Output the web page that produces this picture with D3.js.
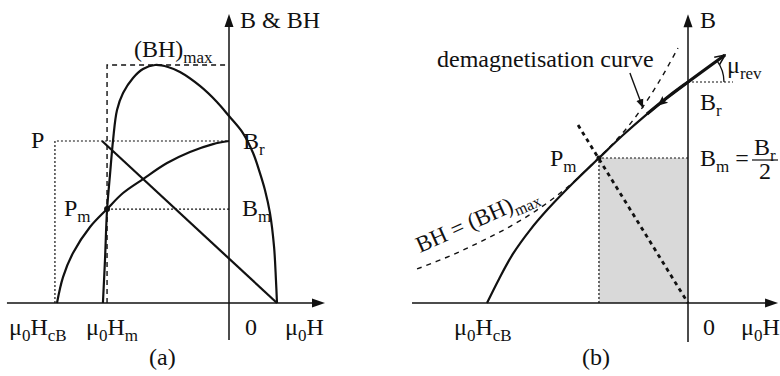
<!DOCTYPE html>
<html>
<head>
<meta charset="utf-8">
<script src="https://cdn.jsdelivr.net/npm/d3@7"></script>
<style>
  body { margin: 0; background: #fff; }
  svg { display: block; }
  text { font-family: "Liberation Serif", "Times New Roman", serif; fill: #111; }
</style>
</head>
<body>
<svg id="chart" width="780" height="376"></svg>
<script>
// ---- Panel (a): units of H_cB (field) and B_r (flux density) ----
const aDemag = [[-1.000, 0], [-0.965, 0.160], [-0.907, 0.309], [-0.808, 0.469], [-0.709, 0.580],
                [-0.616, 0.679], [-0.500, 0.765], [-0.360, 0.864], [-0.227, 0.932], [-0.093, 0.981], [0, 1]];
const aEnergy = [[-0.733, 0], [-0.721, 0.265], [-0.709, 0.574], [-0.692, 0.790], [-0.674, 1.006],
                 [-0.651, 1.191], [-0.616, 1.296], [-0.558, 1.389], [-0.500, 1.444], [-0.430, 1.469],
                 [-0.355, 1.457], [-0.285, 1.426], [-0.169, 1.340], [-0.070, 1.241], [0, 1.154],
                 [0.081, 1.049], [0.140, 0.926], [0.180, 0.802], [0.209, 0.698], [0.238, 0.556],
                 [0.262, 0.346], [0.273, 0.142], [0.279, 0]];
const aLoadLine = [[-0.738, 1.0], [0.279, 0]];
const aP = [-1.012, 1.0];
const aPm = [-0.709, 0.580];
const aBHmax = 1.469;
const aAxisH = [-1.291, 0.558];
const aAxisB = [-0.228, 1.784];

// ---- Panel (b) ----
const bDemag = [[-1.000, 0], [-0.940, 0.109], [-0.871, 0.222], [-0.786, 0.330], [-0.697, 0.425],
                [-0.572, 0.543], [-0.443, 0.656], [-0.323, 0.760], [-0.204, 0.855], [-0.100, 0.932], [0, 1]];
const bRecoil = [[0, 1], [0.184, 1.122]];
const bHyperbola = [[-1.348, 0.154], [-1.184, 0.213], [-1.035, 0.276], [-0.886, 0.346], [-0.736, 0.430],
                    [-0.587, 0.534], [-0.443, 0.658], [-0.338, 0.756], [-0.239, 0.869], [-0.139, 1.009],
                    [-0.050, 1.154]];
const bLoadLine = [[-0.547, 0.805], [0, 0]];
const bPm = [-0.443, 0.656];
const bBrGuide = [0, 0.224];
const bLabelArrow = [[-0.289, 1.041], [-0.224, 0.882]];
const bAxisH = [-1.373, 0.448];
const bAxisB = [-0.176, 1.307];

const svg = d3.select("#chart");
const ink = "#111";
const FS = 24, SUB = 17;

const defs = svg.append("defs");
defs.append("marker").attr("id", "head").attr("viewBox", "0 0 10 10")
  .attr("refX", 10).attr("refY", 5).attr("markerWidth", 9).attr("markerHeight", 9)
  .attr("markerUnits", "userSpaceOnUse").attr("orient", "auto")
  .append("path").attr("d", "M0,1 L10,5 L0,9 Z").attr("fill", ink);
defs.append("marker").attr("id", "open").attr("viewBox", "0 0 12 12")
  .attr("refX", 11).attr("refY", 6).attr("markerWidth", 12).attr("markerHeight", 12)
  .attr("markerUnits", "userSpaceOnUse").attr("orient", "auto")
  .append("path").attr("d", "M1,1.5 L11,6 L1,10.5").attr("fill", "none")
  .attr("stroke", ink).attr("stroke-width", 1.6);

// text with subscripts: parts = [[string, isSub], ...]
function label(g, x, y, parts, size = FS, subSize = SUB) {
  const t = g.append("text").attr("x", x).attr("y", y).attr("font-size", size);
  let down = false;
  parts.forEach(([s, sub]) => {
    const ts = t.append("tspan").text(s);
    if (sub && !down) { ts.attr("font-size", subSize).attr("dy", 6); down = true; }
    else if (!sub && down) { ts.attr("dy", -6); down = false; }
    else if (sub) ts.attr("font-size", subSize);
  });
  return t;
}

function axes(g, x, y, hRange, bRange) {
  g.append("line").attr("x1", x(hRange[0])).attr("x2", x(hRange[1]) - 8)
    .attr("y1", y(0)).attr("y2", y(0)).attr("stroke", ink).attr("stroke-width", 1.5);
  g.append("line").attr("x1", x(0)).attr("x2", x(0))
    .attr("y1", y(bRange[0])).attr("y2", y(bRange[1]) + 8).attr("stroke", ink).attr("stroke-width", 1.5);
  g.append("path").attr("fill", ink)
    .attr("d", `M${x(hRange[1])},${y(0)} l-13,-4.5 l0,9 Z`);
  g.append("path").attr("fill", ink)
    .attr("d", `M${x(0)},${y(bRange[1])} l-4.5,13 l9,0 Z`);
}

// ================= Panel (a) =================
{
  const x = d3.scaleLinear().domain([-1, 0]).range([57, 229]);
  const y = d3.scaleLinear().domain([0, 1]).range([303, 141]);
  const g = svg.append("g");
  const line = d3.line().x(d => x(d[0])).y(d => y(d[1]));
  const smooth = d3.line().x(d => x(d[0])).y(d => y(d[1])).curve(d3.curveCatmullRom.alpha(0.5));

  // dotted construction lines
  const dotted = { stroke: ink, "stroke-width": 1.2, "stroke-dasharray": "2,2", fill: "none" };
  const dl = (pts, st) => { const p = g.append("path").attr("d", line(pts)); Object.entries(st).forEach(([k, v]) => p.attr(k, v)); };
  dl([[aP[0], 0], aP, [0, aP[1]]], dotted);
  dl([aPm, [0, aPm[1]]], dotted);
  // dashed (BH)max box
  const dashed = { stroke: ink, "stroke-width": 1.4, "stroke-dasharray": "5,4", fill: "none" };
  dl([[aPm[0], 0], [aPm[0], aBHmax], [0, aBHmax]], dashed);

  // curves
  g.append("path").attr("d", smooth(aDemag)).attr("fill", "none").attr("stroke", ink).attr("stroke-width", 2.2);
  g.append("path").attr("d", smooth(aEnergy)).attr("fill", "none").attr("stroke", ink).attr("stroke-width", 2.2);
  g.append("path").attr("d", line(aLoadLine)).attr("fill", "none").attr("stroke", ink).attr("stroke-width", 2.2);
  g.append("circle").attr("cx", x(aPm[0])).attr("cy", y(aPm[1])).attr("r", 3).attr("fill", ink);

  axes(g, x, y, aAxisH, aAxisB);

  label(g, 240, 28, [["B & BH"]]);
  label(g, 134, 57, [["(BH)"], ["max", true]]);
  label(g, 31, 148, [["P"]]);
  label(g, 243, 149, [["B"], ["r", true]]);
  label(g, 64, 216, [["P"], ["m", true]]);
  label(g, 242, 216, [["B"], ["m", true]]);
  label(g, 9, 335, [["μ"], ["0", true], ["H"], ["cB", true]]);
  label(g, 86, 335, [["μ"], ["0", true], ["H"], ["m", true]]);
  label(g, 245, 335, [["0"]]);
  label(g, 285, 335, [["μ"], ["0", true], ["H"]]);
  label(g, 149, 365, [["(a)"]]);
}

// ================= Panel (b) =================
{
  const x = d3.scaleLinear().domain([-1, 0]).range([487, 688]);
  const y = d3.scaleLinear().domain([0, 1]).range([303, 82]);
  const g = svg.append("g");
  const line = d3.line().x(d => x(d[0])).y(d => y(d[1]));
  const smooth = d3.line().x(d => x(d[0])).y(d => y(d[1])).curve(d3.curveCatmullRom.alpha(0.5));

  // shaded energy rectangle at the working point
  g.append("rect").attr("x", x(bPm[0])).attr("y", y(bPm[1]))
    .attr("width", x(0) - x(bPm[0])).attr("height", y(0) - y(bPm[1]))
    .attr("fill", "#d9d9d9");
  g.append("path").attr("d", line([[bPm[0], 0], bPm, [0, bPm[1]]]))
    .attr("fill", "none").attr("stroke", ink).attr("stroke-width", 1.2).attr("stroke-dasharray", "2,2");
  // B_r guide
  g.append("path").attr("d", line([[bBrGuide[0], 1], [bBrGuide[1], 1]]))
    .attr("fill", "none").attr("stroke", ink).attr("stroke-width", 1.2).attr("stroke-dasharray", "2,2");

  // constant-energy hyperbola
  g.append("path").attr("d", smooth(bHyperbola)).attr("fill", "none").attr("stroke", ink)
    .attr("stroke-width", 1.4).attr("stroke-dasharray", "5,5");
  // load line
  g.append("path").attr("d", line(bLoadLine)).attr("fill", "none").attr("stroke", ink)
    .attr("stroke-width", 2.8).attr("stroke-dasharray", "4,4");

  // demagnetisation curve and recoil line
  g.append("path").attr("d", smooth(bDemag)).attr("fill", "none").attr("stroke", ink).attr("stroke-width", 2.2);
  const upper = bDemag.filter(d => d[0] >= -0.21).concat([bRecoil[1]]);
  g.append("path").attr("d", smooth(upper)).attr("fill", "none").attr("stroke", ink)
    .attr("stroke-width", 3.2).attr("marker-end", "url(#open)");
  // direction mark on the curve
  {
    const p1 = bDemag[9], p0 = bDemag[8];
    const ang = Math.atan2(y(p0[1]) - y(p1[1]), x(p0[0]) - x(p1[0])) * 180 / Math.PI;
    const cx = (x(p0[0]) + x(p1[0])) / 2 + 4, cy = (y(p0[1]) + y(p1[1])) / 2 - 3;
    g.append("path").attr("d", "M5,0 L-5,-4.5 L-3,0 L-5,4.5 Z").attr("fill", ink)
      .attr("transform", `translate(${cx},${cy}) rotate(${ang})`);
  }
  g.append("circle").attr("cx", x(bPm[0])).attr("cy", y(bPm[1])).attr("r", 2.5).attr("fill", ink);

  // recoil permeability angle
  {
    const bx = x(0), by = y(1);
    const a1 = Math.atan2(y(bRecoil[1][1]) - by, x(bRecoil[1][0]) - bx);
    const p = d3.path();
    p.arc(bx, by, 36, a1, 0);
    g.append("path").attr("d", p.toString()).attr("fill", "none").attr("stroke", ink).attr("stroke-width", 1.3);
  }

  // pointer for the curve label
  g.append("path").attr("d", line(bLabelArrow)).attr("fill", "none").attr("stroke", ink)
    .attr("stroke-width", 1.4).attr("marker-end", "url(#head)");

  axes(g, x, y, bAxisH, bAxisB);

  label(g, 700, 28, [["B"]]);
  label(g, 437, 67, [["demagnetisation curve"]]);
  label(g, 727, 73, [["μ"], ["rev", true]]);
  label(g, 700, 110, [["B"], ["r", true]]);
  label(g, 550, 166, [["P"], ["m", true]]);
  label(g, 700, 166, [["B"], ["m", true], [" ="]]);
  label(g, 754, 155, [["B"], ["r", true]]);
  g.append("line").attr("x1", 752).attr("x2", 778).attr("y1", 160).attr("y2", 160)
    .attr("stroke", ink).attr("stroke-width", 1.2);
  label(g, 759, 179, [["2"]]);
  label(g, 0, 0, [["BH = (BH)"], ["max", true]], 23, 16)
    .attr("transform", "translate(420,253) rotate(-24)");
  label(g, 454, 335, [["μ"], ["0", true], ["H"], ["cB", true]]);
  label(g, 703, 335, [["0"]]);
  label(g, 741, 335, [["μ"], ["0", true], ["H"]]);
  label(g, 582, 365, [["(b)"]]);
}
</script>
</body>
</html>
